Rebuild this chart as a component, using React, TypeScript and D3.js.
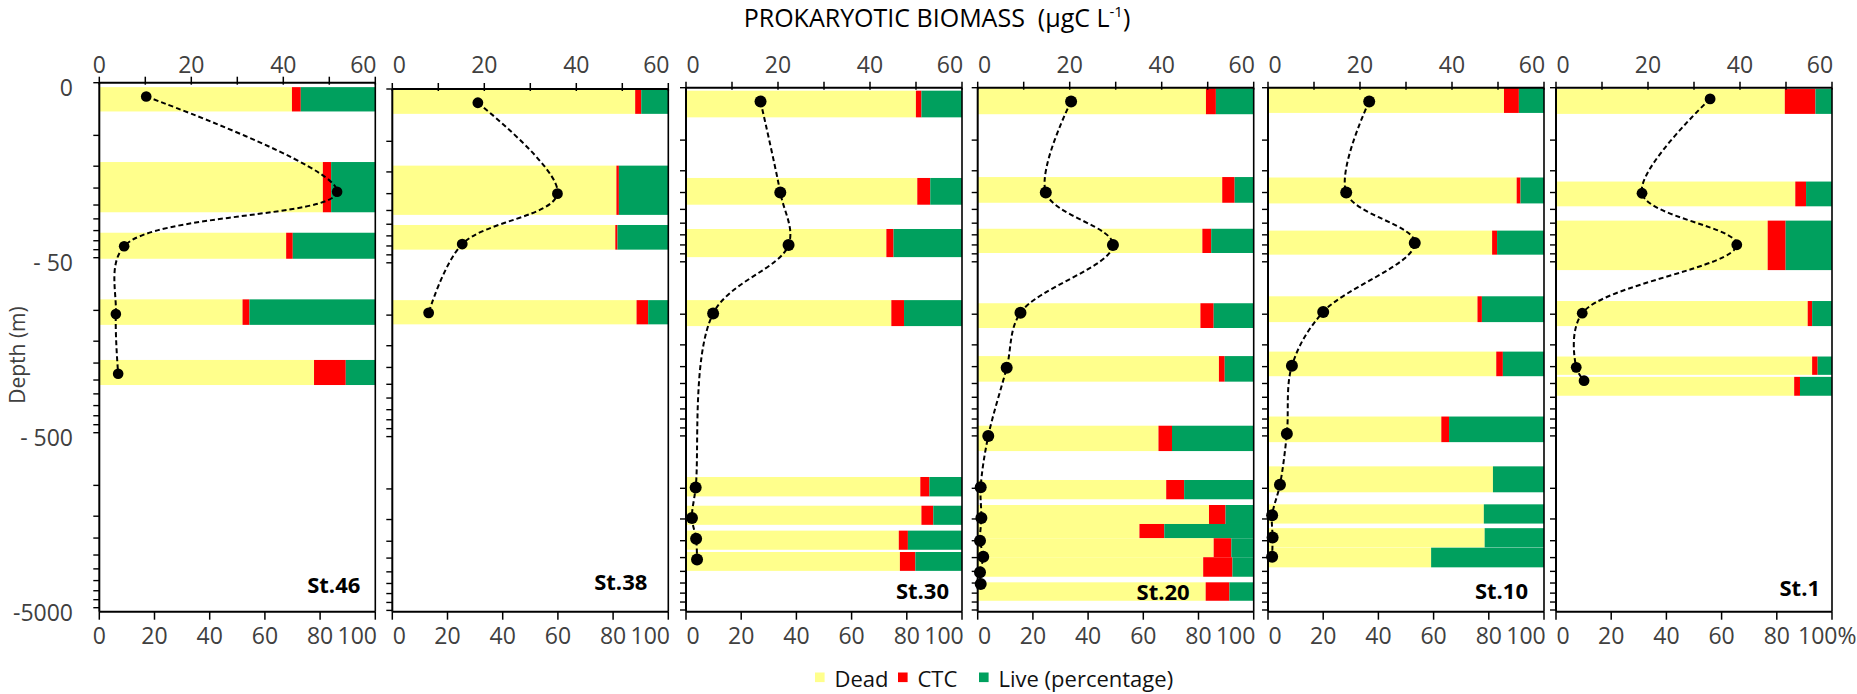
import * as d3 from "d3";

// ---- values ----
const stations = ["St.46", "St.38", "St.30", "St.20", "St.10", "St.1"];

// St.46 : biomass profile (depth m, µgC L-1) and live/dead layers (depth range m, % dead, % CTC)
const st46Depth = [6, 21, 43, 105, 230];
const st46Biomass = [10.2, 51.7, 5.4, 3.6, 4.1];
const st46Layers = [[5.3, 7.3], [14.2, 27.5], [36, 50.7], [86.5, 121], [192, 267]];
const st46Dead = [69.8, 81.0, 67.7, 51.9, 77.8];
const st46Ctc = [3.2, 3.0, 2.4, 2.5, 11.5];

// St.38
const st38Depth = [6, 20, 39, 97];
const st38Biomass = [18.6, 35.9, 15.2, 7.9];
const st38Layers = [[5.05, 6.95], [13.8, 26.5], [30.3, 42], [82, 113]];
const st38Dead = [88.0, 81.2, 80.8, 88.5];
const st38Ctc = [2.2, 0.9, 0.8, 4.2];

// St.30
const st30Depth = [6, 20, 40, 99, 990, 1480, 1950, 2560];
const st30Biomass = [16.2, 20.5, 22.3, 5.9, 2.1, 1.3, 2.2, 2.4];
const st30Layers = [[5.2, 7.4], [16.5, 23.5], [32.4, 47], [83, 117], [861, 1113], [1259, 1621], [1750, 2254], [2322, 2980]];
const st30Dead = [83.3, 83.8, 72.6, 74.4, 84.9, 85.3, 77.1, 77.5];
const st30Ctc = [2.0, 4.7, 2.6, 4.6, 3.3, 4.3, 3.3, 5.6];

// St.20
const st20Depth = [6, 20, 40, 98, 203, 500, 986, 1482, 2000, 2470, 3035, 3546];
const st20Biomass = [20.3, 14.8, 29.4, 9.3, 6.3, 2.3, 0.65, 0.8, 0.5, 1.2, 0.5, 0.65];
const st20Layers = [[5.04, 7.1], [16.3, 22.9], [32.3, 44.5], [86.5, 120], [174, 244], [437, 611], [896, 1156], [1247, 1603], [1603, 1936], [1936, 2488], [2488, 3221], [3467, 4425]];
const st20Dead = [82.7, 88.6, 81.4, 80.7, 87.4, 65.5, 68.3, 83.8, 58.6, 85.5, 81.7, 82.6];
const st20Ctc = [3.6, 4.5, 3.2, 4.8, 2.1, 4.9, 6.5, 6.0, 9.0, 6.4, 10.6, 8.6];

// St.10
const st10Depth = [6, 20, 39, 97, 198, 486, 953, 1427, 1915, 2470];
const st10Biomass = [22.0, 17.0, 31.9, 12.0, 5.2, 4.1, 2.6, 0.9, 1.0, 0.9];
const st10Layers = [[5.0, 6.98], [16.4, 23.1], [33.1, 45.5], [78.9, 111], [164, 227], [387, 543], [748, 1054], [1236, 1594], [1694, 2186], [2193, 2844]];
const st10Dead = [85.5, 90.1, 81.2, 75.9, 82.7, 62.8, 81.5, 78.2, 78.5, 59.1];
const st10Ctc = [5.4, 1.4, 1.8, 1.6, 2.4, 2.8, 0, 0, 0, 0];

// St.1
const st1Depth = [5.8, 20.2, 39.9, 98.7, 202, 241];
const st1Biomass = [33.5, 18.7, 39.3, 5.7, 4.4, 6.1];
const st1Layers = [[5.09, 7.07], [17.3, 24], [29, 55.8], [84, 117], [175, 223], [229, 294]];
const st1Dead = [82.9, 86.7, 76.7, 91.2, 92.8, 86.3];
const st1Ctc = [11.1, 3.9, 6.5, 1.6, 2.0, 2.1];

const biomassTicks = [0, 10, 20, 30, 40, 50, 60];
const biomassLabels = [0, 20, 40, 60];
const pctTicks = [0, 20, 40, 60, 80, 100];
const depthLabels: [number, string][] = [[5, "0"], [50, "- 50"], [500, "- 500"], [5000, "-5000"]];
const depthTicks = [...d3.range(5, 50, 5), ...d3.range(50, 500, 50), ...d3.range(500, 5001, 500)];
const legendItems = ["Dead", "CTC", "Live (percentage)"];

const profiles = [
  { depth: st46Depth, biomass: st46Biomass, layers: st46Layers, dead: st46Dead, ctc: st46Ctc },
  { depth: st38Depth, biomass: st38Biomass, layers: st38Layers, dead: st38Dead, ctc: st38Ctc },
  { depth: st30Depth, biomass: st30Biomass, layers: st30Layers, dead: st30Dead, ctc: st30Ctc },
  { depth: st20Depth, biomass: st20Biomass, layers: st20Layers, dead: st20Dead, ctc: st20Ctc },
  { depth: st10Depth, biomass: st10Biomass, layers: st10Layers, dead: st10Dead, ctc: st10Ctc },
  { depth: st1Depth, biomass: st1Biomass, layers: st1Layers, dead: st1Dead, ctc: st1Ctc },
];

// ---- layout ----
const W = 1857;
const H = 694;
const panelLeft = [99.3, 392.3, 686, 977.7, 1268, 1556];
const panelWidth = 276;
const panelTop = [82.7, 89, 87.7, 87.7, 87.7, 87.7];
const panelY5000 = [607.7, 610.4, 610, 610, 610, 610];
const frameBottom = 611.7;
const dotR = [5.3, 5.4, 6, 6, 6, 5.4];
const stLabelInset = [15, 21, 13, 64, 16, 12];
const stLabelBase = [593, 590, 599, 600, 599, 596];

const colors = { dead: "#FFFF8C", ctc: "#FF0000", live: "#00A05E" };
const font = "'Open Sans', 'DejaVu Sans', sans-serif";
const tickGray = "#404040";
const tickSize = 23;

function Panel({ i }: { i: number }) {
  const p = profiles[i];
  const x0 = panelLeft[i];
  const x1 = x0 + panelWidth;
  const top = panelTop[i];

  const y = d3.scaleLog().domain([5, 5000]).range([top, panelY5000[i]]);
  const xb = d3.scaleLinear().domain([0, 60]).range([x0, x1]);
  const xp = d3.scaleLinear().domain([0, 100]).range([x0, x1]);

  const pts = p.depth.map((d, k) => [d, p.biomass[k]] as [number, number]);
  const line = d3
    .line<[number, number]>()
    .x((d) => xb(d[1]))
    .y((d) => y(d[0]))
    .curve(d3.curveCatmullRom.alpha(0.5));

  const last = i === profiles.length - 1;

  return (
    <g>
      {/* stacked percentage bars */}
      {p.layers.map(([d0, d1], k) => {
        const yt = y(d0);
        const h = y(d1) - yt;
        const dead = p.dead[k];
        const ctc = p.ctc[k];
        return (
          <g key={k}>
            <rect x={xp(0)} y={yt} width={xp(dead) - xp(0)} height={h} fill={colors.dead} />
            {ctc > 0 && (
              <rect x={xp(dead)} y={yt} width={xp(dead + ctc) - xp(dead)} height={h} fill={colors.ctc} />
            )}
            <rect x={xp(dead + ctc)} y={yt} width={xp(100) - xp(dead + ctc)} height={h} fill={colors.live} />
          </g>
        );
      })}

      {/* frame */}
      <line x1={x0} x2={x1} y1={top} y2={top} stroke="#000" strokeWidth={2} />
      <line x1={x0} x2={x1} y1={frameBottom} y2={frameBottom} stroke="#000" strokeWidth={2} />
      <line x1={x0} x2={x0} y1={top} y2={frameBottom} stroke="#000" strokeWidth={2} />
      <line x1={x1} x2={x1} y1={top} y2={frameBottom} stroke="#000" strokeWidth={1.6} />

      {/* top biomass axis */}
      {biomassTicks.map((v) => (
        <line key={v} x1={xb(v)} x2={xb(v)} y1={top - 6} y2={top + 2} stroke="#000" strokeWidth={1.5} />
      ))}
      {biomassLabels.map((v) => (
        <text
          key={v}
          x={xb(v) + (v === 0 && i > 0 ? 7 : 0) + (v === 60 ? -12 : 0)}
          y={73}
          textAnchor="middle"
          fontFamily={font}
          fontSize={tickSize}
          fill={tickGray}
        >
          {v}
        </text>
      ))}

      {/* bottom percentage axis */}
      {pctTicks.map((v) => (
        <line key={v} x1={xp(v)} x2={xp(v)} y1={frameBottom} y2={frameBottom + 8} stroke="#000" strokeWidth={1.5} />
      ))}
      {pctTicks.map((v) => {
        const lastPct = v === 100 && last;
        return (
          <text
            key={v}
            x={lastPct ? xp(v) - 34 : xp(v) + (v === 0 && i > 0 ? 7 : 0) + (v === 100 ? -18 : 0)}
            y={644}
            textAnchor={lastPct ? "start" : "middle"}
            fontFamily={font}
            fontSize={tickSize}
            fill={tickGray}
          >
            {lastPct ? `${v}%` : v}
          </text>
        );
      })}

      {/* depth ticks */}
      {depthTicks.map((t) => (
        <line key={t} x1={x0 - 6} x2={x0} y1={y(t)} y2={y(t)} stroke="#000" strokeWidth={1.4} />
      ))}
      {i === 0 &&
        depthLabels.map(([t, s]) => (
          <text key={t} x={73} y={y(t) + 13} textAnchor="end" fontFamily={font} fontSize={tickSize} fill={tickGray}>
            {s}
          </text>
        ))}

      {/* biomass profile */}
      <path d={line(pts) ?? ""} fill="none" stroke="#000" strokeWidth={2} strokeDasharray="5,3" />
      {pts.map((d, k) => (
        <circle key={k} cx={xb(d[1])} cy={y(d[0])} r={dotR[i]} fill="#000" />
      ))}

      <text
        x={x1 - stLabelInset[i]}
        y={stLabelBase[i]}
        textAnchor="end"
        fontFamily={font}
        fontSize={22}
        fontWeight="bold"
        fill="#000"
      >
        {stations[i]}
      </text>
    </g>
  );
}

export default function App() {
  const legendX = [815, 898, 979];
  const legendColors = [colors.dead, colors.ctc, colors.live];
  return (
    <svg width={W} height={H} style={{ position: "absolute", left: 0, top: 0, background: "#fff" }}>
      <rect width={W} height={H} fill="#fff" />
      <text x={937} y={27} textAnchor="middle" fontFamily={font} fontSize={25} fill="#000">
        PROKARYOTIC BIOMASS{"\u00a0\u00a0"}(µgC L
        <tspan dy={-10} fontSize={15}>-1</tspan>
        <tspan dy={10}>)</tspan>
      </text>
      <text
        transform="translate(25,355) rotate(-90)"
        textAnchor="middle"
        fontFamily={font}
        fontSize={21}
        fill={tickGray}
      >
        Depth (m)
      </text>
      {profiles.map((_, i) => (
        <Panel key={i} i={i} />
      ))}
      {legendItems.map((s, k) => (
        <g key={s}>
          <rect x={legendX[k]} y={672.5} width={9.6} height={9.6} fill={legendColors[k]} />
          <text x={legendX[k] + 19.5} y={687} fontFamily={font} fontSize={22} fill="#111">
            {s}
          </text>
        </g>
      ))}
    </svg>
  );
}
